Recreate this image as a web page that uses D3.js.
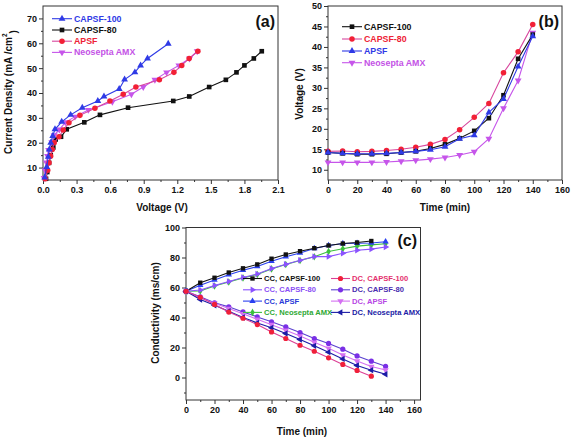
<!DOCTYPE html>
<html><head><meta charset="utf-8">
<script src="https://cdn.jsdelivr.net/npm/d3@7"></script>
<style>
body{margin:0;background:#fff}
svg{display:block}
text{font-family:"Liberation Sans",Arial,sans-serif;font-weight:bold}
</style>
</head><body>
<svg id="chart" width="572" height="438"></svg>
<script>
// ---------- Panel (a): current density vs voltage ----------
const aXTicks = [0, 0.3, 0.6, 0.9, 1.2, 1.5, 1.8, 2.1];
const aYTicks = [10, 20, 30, 40, 50, 60, 70];
const aV_CAPSF100 = [0.015,0.033,0.047,0.056,0.069,0.087,0.107,0.167,0.247,0.351,0.49,0.545,0.681,0.729,0.821,0.872,0.934,1.119];
const aJ_CAPSF100 = [6.0,10.2,14.3,17.3,20.0,22.7,25.4,28.4,31.2,34.1,36.8,38.6,41.6,45.4,48.3,51.1,53.9,59.8];
const aV_CAPSF80 = [0.027,0.038,0.054,0.069,0.092,0.113,0.161,0.212,0.369,0.509,0.76,1.164,1.307,1.485,1.634,1.729,1.8,1.884,1.955];
const aJ_CAPSF80 = [5.5,8.2,11.9,15.0,18.1,21.3,22.4,25.4,28.2,31.2,34.1,36.8,38.6,42.4,45.3,48.3,51.1,53.9,56.8];
const aV_APSF = [0.02,0.042,0.054,0.068,0.083,0.1,0.143,0.181,0.232,0.33,0.464,0.598,0.717,0.83,1.04,1.17,1.24,1.306,1.384];
const aJ_APSF = [5.5,8.9,11.9,14.6,17.3,20.0,22.4,25.1,28.0,31.0,33.9,36.8,39.5,42.4,45.3,48.3,51.1,53.9,56.8];
const aV_AMX = [0.01,0.02,0.03,0.04,0.05,0.078,0.1,0.146,0.2,0.286,0.405,0.62,0.79,0.896,1.0,1.104,1.214,1.31,1.378];
const aJ_AMX = [5.8,8.9,12.0,14.7,17.1,20.2,23.0,25.3,28.2,30.5,33.2,36.5,39.5,42.4,45.3,48.3,51.1,53.9,56.8];

// ---------- Panel (b): voltage vs time ----------
const bXTicks = [0, 20, 40, 60, 80, 100, 120, 140, 160];
const bYTicks = [10, 15, 20, 25, 30, 35, 40, 45, 50];
const bTime = [0,10,20,30,40,50,60,70,80,90,100,110,120,130,140];
const bV_CAPSF100 = [14.2,14.0,13.8,13.8,13.9,14.2,14.5,15.2,16.2,17.7,19.5,22.6,28.2,37.1,43.0];
const bV_CAPSF80 = [14.5,14.6,14.4,14.5,14.7,15.0,15.5,16.2,17.4,19.8,22.8,26.2,33.7,38.8,45.5];
const bV_APSF = [14.2,14.0,13.9,13.9,14.0,14.2,14.5,14.9,15.6,17.6,18.4,24.0,27.3,35.2,42.6];
const bV_AMX = [11.8,11.8,11.8,11.8,11.9,12.1,12.3,12.6,13.0,13.6,14.4,17.6,25.0,31.8,43.5];

// ---------- Panel (c): conductivity vs time ----------
const cXTicks = [0, 20, 40, 60, 80, 100, 120, 140, 160];
const cYTicks = [0, 20, 40, 60, 80, 100];
const cTime = [0,10,20,30,40,50,60,70,80,90,100,110,120,130,140];
const cTime130 = [0,10,20,30,40,50,60,70,80,90,100,110,120,130];
const cCC_CAPSF100 = [57.5,63.2,66.5,70.0,72.8,75.4,79.2,82.0,84.2,86.2,88.0,89.3,90.0,91.0];
const cDC_CAPSF100 = [57.5,53.5,48.7,43.6,39.5,35.3,30.4,26.0,21.5,17.5,13.1,8.7,4.7,0.9];
const cCC_CAPSF80 = [57.5,58.3,61.3,64.0,66.7,69.0,72.7,75.5,78.2,80.6,80.6,82.8,84.8,85.6,87.0];
const cDC_CAPSF80 = [57.5,53.8,49.8,47.1,43.7,40.4,37.1,33.7,30.0,26.0,22.7,18.9,14.4,10.9,7.5];
const cCC_APSF = [57.5,61.5,65.0,68.5,71.5,74.0,77.5,80.5,83.0,86.0,88.0,89.3,89.5,89.7,90.5];
const cDC_APSF = [57.5,53.0,49.5,46.0,42.5,38.8,35.2,31.5,27.6,23.5,19.5,15.0,11.0,7.3,5.0];
const cCC_AMX = [57.5,57.7,61.0,63.7,66.4,68.7,72.4,75.3,78.0,80.5,84.0,85.8,87.6,88.4,89.2];
const cDC_AMX = [57.5,52.0,48.2,44.2,40.0,36.4,33.1,29.3,25.3,21.1,16.9,12.4,8.0,4.9,2.2];

const svg = d3.select("#chart");
const FONT = "'Liberation Sans', Arial, sans-serif";

const SYM = {
  square: {type: d3.symbolSquare, rot: 0, size: 18},
  circle: {type: d3.symbolCircle, rot: 0, size: 20},
  up:     {type: d3.symbolTriangle, rot: 0, size: 17},
  down:   {type: d3.symbolTriangle, rot: 180, size: 17},
  right:  {type: d3.symbolTriangle, rot: 90, size: 17},
  left:   {type: d3.symbolTriangle, rot: -90, size: 17},
  diamond:{type: d3.symbolDiamond, rot: 0, size: 16}
};

function marker(g, shape, cx, cy, color, k) {
  const s = SYM[shape];
  g.append("path")
    .attr("d", d3.symbol().type(s.type).size(s.size * (k || 1))())
    .attr("transform", `translate(${cx},${cy}) rotate(${s.rot})`)
    .attr("fill", color);
}

function drawPanel(p) {
  const g = svg.append("g");
  const x = d3.scaleLinear().domain(p.xDom).range(p.xRange);
  const y = d3.scaleLinear().domain(p.yDom).range(p.yRange);
  const y0 = p.yRange[0], x0 = p.xRange[0];

  function style(ax) {
    ax.attr("font-family", FONT).attr("font-size", 9).attr("font-weight", "bold");
    ax.selectAll(".domain").remove();
    ax.selectAll("line").attr("stroke", "#333");
    ax.selectAll("text").attr("fill", "#111");
  }
  style(g.append("g").attr("transform", `translate(0,${y0})`)
    .call(d3.axisBottom(x).tickValues(p.xMinor).tickSize(2).tickFormat("")));
  style(g.append("g").attr("transform", `translate(0,${y0})`)
    .call(d3.axisBottom(x).tickValues(p.xTicks).tickSize(4).tickPadding(3).tickFormat(p.xFmt)));
  style(g.append("g").attr("transform", `translate(${x0},0)`)
    .call(d3.axisLeft(y).tickValues(p.yMinor).tickSize(2).tickFormat("")));
  style(g.append("g").attr("transform", `translate(${x0},0)`)
    .call(d3.axisLeft(y).tickValues(p.yTicks).tickSize(4).tickPadding(2).tickFormat(p.yFmt)));

  g.append("rect")
    .attr("x", p.xRange[0]).attr("y", p.yRange[1])
    .attr("width", p.xRange[1] - p.xRange[0]).attr("height", p.yRange[0] - p.yRange[1])
    .attr("fill", "none").attr("stroke", "#333").attr("stroke-width", 1);

  const line = d3.line().x(d => x(d[0])).y(d => y(d[1]));
  p.series.forEach(s => {
    const pts = s.xs.map((v, i) => [v, s.ys[i]]);
    g.append("path").attr("d", line(pts)).attr("fill", "none")
      .attr("stroke", s.line || s.color).attr("stroke-width", 1.1);
    const mg = g.append("g");
    pts.forEach(d => marker(mg, s.shape, x(d[0]), y(d[1]), s.color, p.mk));
  });

  // legend
  p.legend.forEach(L => {
    const s = L.s;
    g.append("line").attr("x1", L.x).attr("x2", L.x + L.w).attr("y1", L.y).attr("y2", L.y)
      .attr("stroke", s.line || s.color).attr("stroke-width", 1.1);
    marker(g, s.shape, L.x + L.w / 2, L.y, s.color, p.mk);
    g.append("text").attr("x", L.x + L.w + 2).attr("y", L.y).attr("dy", "0.35em")
      .attr("font-size", p.legFont).attr("fill", s.text || s.color).text(s.name);
  });

  // titles
  g.append("text").attr("x", p.xTitle[0]).attr("y", p.xTitle[1]).attr("dy", "0.35em")
    .attr("text-anchor", "middle").attr("font-size", 10).attr("fill", "#111").text(p.xLabel);
  const yt = g.append("text").attr("transform", `translate(${p.yTitle[0]},${p.yTitle[1]}) rotate(-90)`)
    .attr("dy", "0.35em").attr("text-anchor", "middle").attr("font-size", 10).attr("fill", "#111");
  if (p.yLabelSup) {
    yt.append("tspan").text(p.yLabel);
    yt.append("tspan").attr("dy", "-0.7em").attr("font-size", 6.5).text(p.yLabelSup);
    yt.append("tspan").attr("dy", "1.05em").text(")");
  } else {
    yt.text(p.yLabel);
  }
  g.append("text").attr("x", p.tag[0]).attr("y", p.tag[1]).attr("text-anchor", "end")
    .attr("font-family", "'Liberation Serif','Times New Roman',serif").attr("font-size", 16)
    .attr("font-weight", "bold").attr("fill", "#111").text(p.tagText);
}

// ---- (a)
const A = {
  c100: {name: "CAPSF-100", xs: aV_CAPSF100, ys: aJ_CAPSF100, color: "#2f3ae6", shape: "up", text: "#2f3ae6"},
  c80:  {name: "CAPSF-80", xs: aV_CAPSF80, ys: aJ_CAPSF80, color: "#111", shape: "square", text: "#111"},
  apsf: {name: "APSF", xs: aV_APSF, ys: aJ_APSF, color: "#f22036", line: "#d8479e", shape: "circle", text: "#ee2236"},
  amx:  {name: "Neosepta AMX", xs: aV_AMX, ys: aJ_AMX, color: "#c655ea", shape: "down", text: "#c452e6"}
};
drawPanel({
  xDom: [0, 2.1], xRange: [43, 278], yDom: [5, 75], yRange: [180, 6],
  xTicks: aXTicks, xMinor: d3.range(0.15, 2.1, 0.3), yTicks: aYTicks, yMinor: d3.range(15, 75, 10),
  xFmt: d3.format(".1f"), yFmt: d3.format("d"),
  series: [A.c80, A.amx, A.apsf, A.c100],
  legend: [
    {s: A.c100, x: 52, y: 18.7, w: 20},
    {s: A.c80, x: 52, y: 30, w: 20},
    {s: A.apsf, x: 52, y: 41.2, w: 20},
    {s: A.amx, x: 52, y: 52.4, w: 20}
  ],
  legFont: 8.8, mk: 1.2,
  xLabel: "Voltage (V)", xTitle: [162, 207],
  yLabel: "Current Density (mA /cm", yLabelSup: "2", yTitle: [8, 92],
  tag: [275, 27], tagText: "(a)"
});

// ---- (b)
const B = {
  c100: {name: "CAPSF-100", xs: bTime, ys: bV_CAPSF100, color: "#111", shape: "square", text: "#111"},
  c80:  {name: "CAPSF-80", xs: bTime, ys: bV_CAPSF80, color: "#f22036", line: "#d8479e", shape: "circle", text: "#ee2236"},
  apsf: {name: "APSF", xs: bTime, ys: bV_APSF, color: "#2f3ae6", shape: "up", text: "#2f3ae6"},
  amx:  {name: "Neosepta AMX", xs: bTime, ys: bV_AMX, color: "#c655ea", shape: "down", text: "#c452e6"}
};
drawPanel({
  xDom: [0, 160], xRange: [328, 562], yDom: [7.5, 50], yRange: [180, 6],
  xTicks: bXTicks, xMinor: d3.range(10, 160, 20), yTicks: bYTicks, yMinor: d3.range(12.5, 50, 5),
  xFmt: d3.format("d"), yFmt: d3.format("d"),
  series: [B.amx, B.c80, B.c100, B.apsf],
  legend: [
    {s: B.c100, x: 342, y: 26.7, w: 20},
    {s: B.c80, x: 342, y: 39, w: 20},
    {s: B.apsf, x: 342, y: 51, w: 20},
    {s: B.amx, x: 342, y: 62.7, w: 20}
  ],
  legFont: 8.8, mk: 1.2,
  xLabel: "Time (min)", xTitle: [445, 207],
  yLabel: "Voltage (V)", yTitle: [299, 94],
  tag: [559, 27], tagText: "(b)"
});

// ---- (c)
const C = {
  cc100: {name: "CC, CAPSF-100", xs: cTime130, ys: cCC_CAPSF100, color: "#111", shape: "square", text: "#111"},
  dc100: {name: "DC, CAPSF-100", xs: cTime130, ys: cDC_CAPSF100, color: "#f0203a", line: "#dc3f95", shape: "circle", text: "#e4306e"},
  cc80:  {name: "CC, CAPSF-80", xs: cTime, ys: cCC_CAPSF80, color: "#8b52ff", shape: "right", text: "#8b4ff5"},
  dc80:  {name: "DC, CAPSF-80", xs: cTime, ys: cDC_CAPSF80, color: "#7a2fe6", line: "#5a40d0", shape: "circle", text: "#4a2cb0"},
  ccap:  {name: "CC, APSF", xs: cTime, ys: cCC_APSF, color: "#2a40f0", shape: "up", text: "#2a3ad8"},
  dcap:  {name: "DC, APSF", xs: cTime, ys: cDC_APSF, color: "#d470f2", shape: "down", text: "#b846e4"},
  ccamx: {name: "CC, Neosepta AMX", xs: cTime, ys: cCC_AMX, color: "#3cc03e", shape: "diamond", text: "#2fa834"},
  dcamx: {name: "DC, Neosepta AMX", xs: cTime, ys: cDC_AMX, color: "#1c1ca6", shape: "left", text: "#1c1ca6"}
};
drawPanel({
  xDom: [0, 164.5], xRange: [186, 420.5], yDom: [-15, 100], yRange: [400, 227.5],
  xTicks: cXTicks, xMinor: d3.range(10, 164, 20), yTicks: cYTicks, yMinor: d3.range(-10, 100, 20),
  xFmt: d3.format("d"), yFmt: d3.format("d"),
  series: [C.ccamx, C.cc80, C.ccap, C.cc100, C.dc80, C.dcap, C.dcamx, C.dc100],
  legend: [
    {s: C.cc100, x: 243, y: 278.5, w: 19},
    {s: C.cc80, x: 243, y: 289.8, w: 19},
    {s: C.ccap, x: 243, y: 301.1, w: 19},
    {s: C.ccamx, x: 243, y: 312.4, w: 19},
    {s: C.dc100, x: 331, y: 278.5, w: 19},
    {s: C.dc80, x: 331, y: 289.8, w: 19},
    {s: C.dcap, x: 331, y: 301.1, w: 19},
    {s: C.dcamx, x: 331, y: 312.4, w: 19}
  ],
  legFont: 7.6, mk: 1.05,
  xLabel: "Time (min)", xTitle: [302, 431],
  yLabel: "Conductivity (ms/cm)", yTitle: [155, 313],
  tag: [417, 246], tagText: "(c)"
});
</script>
</body></html>
